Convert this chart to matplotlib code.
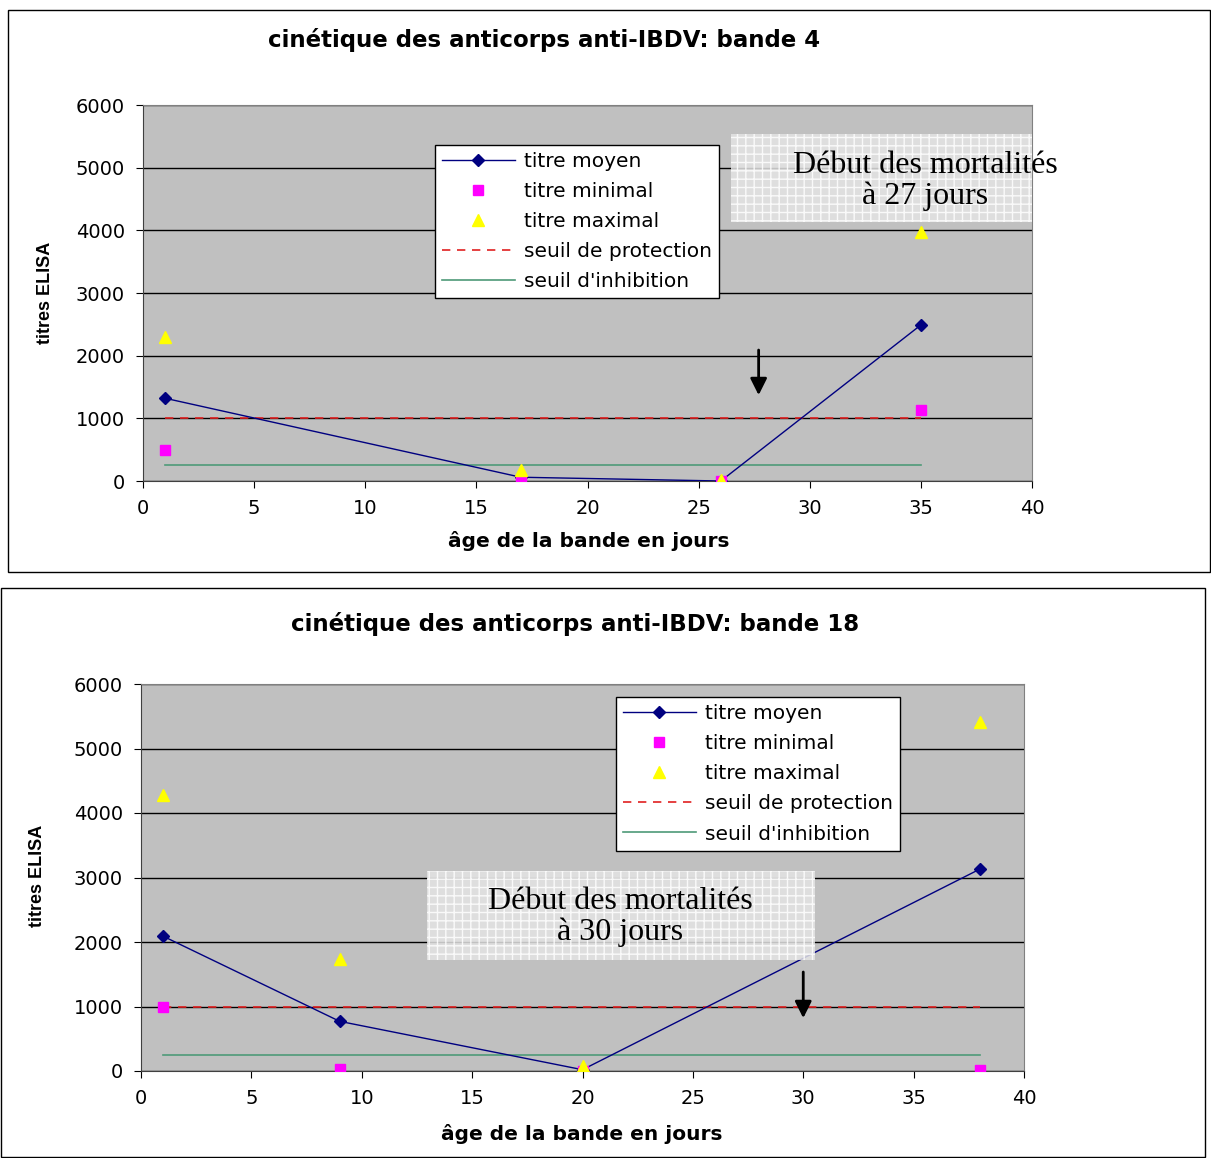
import matplotlib.pyplot as plt
from matplotlib.patches import Rectangle

plt.rcParams['font.family'] = ['DejaVu Sans']

# bande 4
days_4 = [1, 17, 26, 35]
moyen_4 = [1320, 60, 0, 2490]
minimal_4 = [490, 10, 0, 1130]
maximal_4 = [2300, 175, 10, 3970]
seuil_x_4 = [1, 35]

# bande 18
days_18 = [1, 9, 20, 38]
moyen_18 = [2090, 770, 20, 3130]
minimal_18 = [1000, 30, 0, 10]
maximal_18 = [4280, 1740, 70, 5410]
seuil_x_18 = [1, 38]

protection = 1000
inhibition = 250

W, H = 1211, 1158
fig = plt.figure(figsize=(W / 100, H / 100), dpi=100)

# chart frames
fig.patches.append(Rectangle((8 / W, 1 - 572 / H), 1202 / W, 562 / H, transform=fig.transFigure,
                             fill=False, edgecolor='black', lw=1))
fig.patches.append(Rectangle((0.5 / W, 0.001), 1204 / W, 1 - 588 / H - 0.001, transform=fig.transFigure,
                             fill=False, edgecolor='black', lw=1))


def panel(rect, days, moyen, mini, maxi, sx, title, title_xy, xl_xy, yl_xy,
          arrow_x, arrow_y, box, text_xy, days_txt, leg_anchor):
    ax = fig.add_axes(rect)
    ax.set_facecolor('#c0c0c0')
    ax.set_xlim(0, 40)
    ax.set_ylim(0, 6000)
    ax.set_xticks(range(0, 41, 5))
    ax.set_yticks(range(0, 6001, 1000))
    ax.tick_params(direction='out', length=5, labelsize=14, pad=8)
    ax.grid(axis='y', color='black', lw=1)
    ax.set_axisbelow(True)
    for s in ['top', 'right']:
        ax.spines[s].set_color('#808080')
    for s in ['left', 'bottom']:
        ax.spines[s].set_color('#404040')

    ax.plot(sx, [protection] * 2, color='#e02020', ls=(0, (5, 4)), lw=1.2, label='seuil de protection', zorder=3)
    ax.plot(sx, [inhibition] * 2, color='#4e9a78', lw=1.2, label="seuil d'inhibition", zorder=3)
    ax.plot(days, moyen, color='#000080', lw=1, marker='D', ms=6, label='titre moyen', zorder=4)
    ax.plot(days, mini, ls='none', marker='s', color='#ff00ff', ms=7, label='titre minimal', zorder=5)
    ax.plot(days, maxi, ls='none', marker='^', color='#ffff00', ms=9, label='titre maximal', zorder=5)

    h, lab = ax.get_legend_handles_labels()
    order = [2, 3, 4, 0, 1]
    leg = ax.legend([h[i] for i in order], [lab[i] for i in order], loc='upper left',
                    bbox_to_anchor=leg_anchor, borderaxespad=0, fontsize=14.5, frameon=True,
                    fancybox=False, framealpha=1, edgecolor='black', handlelength=3.6,
                    labelspacing=0.55, borderpad=0.35, handletextpad=0.45)
    leg.get_frame().set_linewidth(1)
    leg.set_zorder(10)

    ax.annotate('', xy=(arrow_x, arrow_y[1]), xytext=(arrow_x, arrow_y[0]),
                arrowprops=dict(arrowstyle='-|>,head_width=0.25,head_length=0.5', color='black', lw=2,
                                mutation_scale=20, shrinkA=0, shrinkB=0),
                zorder=6)

    ax.add_patch(Rectangle((box[0], box[1]), box[2], box[3], transform=ax.transAxes,
                           facecolor='#e4e4e4', edgecolor='white', hatch='++', lw=0,
                           alpha=0.85, zorder=7, clip_on=False))
    ax.text(text_xy[0], text_xy[1], 'Début des mortalités\nà %d jours' % days_txt,
            transform=ax.transAxes, ha='center', va='center', family='Liberation Serif',
            fontsize=23, linespacing=1.1, zorder=8, clip_on=False)

    fig.text(title_xy[0], title_xy[1], title, ha='center', va='center', fontsize=16.5, fontweight='bold')
    fig.text(xl_xy[0], xl_xy[1], 'âge de la bande en jours', ha='center', va='center',
             fontsize=14.5, fontweight='bold')
    fig.text(yl_xy[0], yl_xy[1], 'titres ELISA', ha='center', va='center', rotation=90,
             fontsize=13, fontweight='bold', family='Liberation Sans')
    return ax


panel([143 / W, 1 - 481 / H, 889 / W, 376 / H], days_4, moyen_4, minimal_4, maximal_4, seuil_x_4,
      'cinétique des anticorps anti-IBDV: bande 4', (544 / W, 1 - 40 / H),
      (589 / W, 1 - 541 / H), (45 / W, 1 - 293 / H),
      27.7, (2090, 1370), (0.661, 0.689, 0.339, 0.234), (0.88, 0.798), 27, (0.3285, 0.894))

panel([141 / W, 1 - 1071 / H, 883 / W, 387 / H], days_18, moyen_18, minimal_18, maximal_18, seuil_x_18,
      'cinétique des anticorps anti-IBDV: bande 18', (575 / W, 1 - 624 / H),
      (582 / W, 1 - 1134 / H), (37 / W, 1 - 876 / H),
      30, (1535, 820), (0.324, 0.287, 0.439, 0.23), (0.5425, 0.398), 30, (0.538, 0.966))

fig.savefig('out.png', dpi=100)
